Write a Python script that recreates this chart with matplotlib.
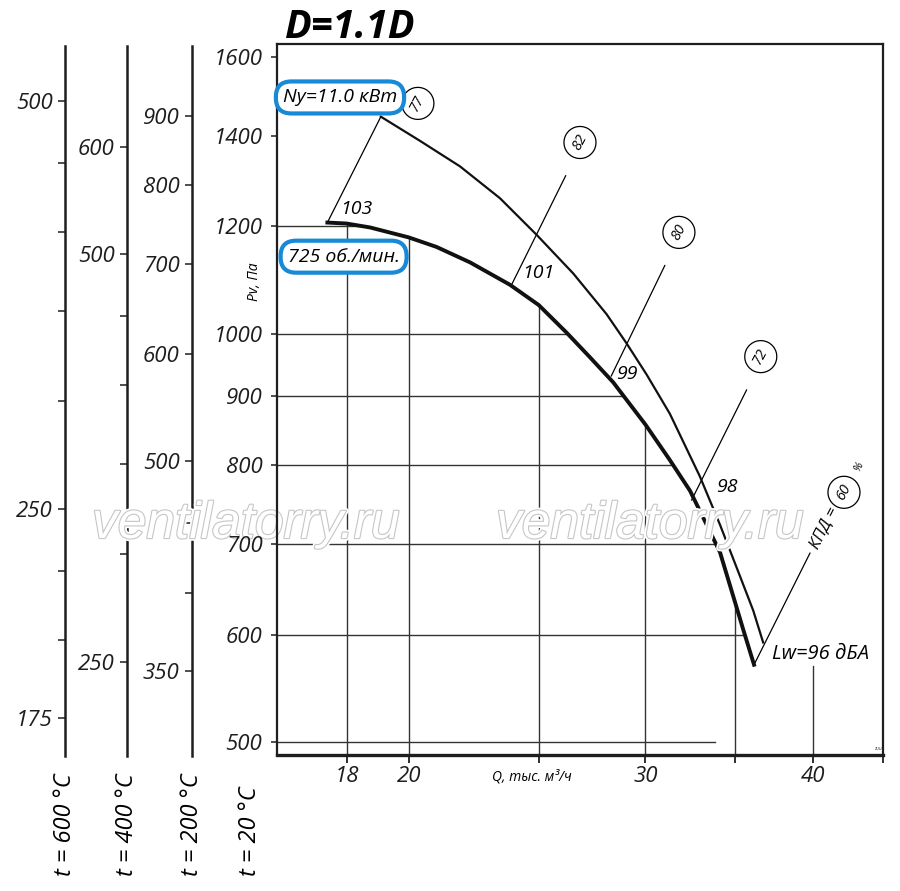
import numpy as np
import matplotlib
matplotlib.use('Agg')
import matplotlib.pyplot as plt
import matplotlib.patheffects as pe
from matplotlib.ticker import FixedLocator, FixedFormatter, NullLocator

FONT = ['Open Sans', 'DejaVu Sans']
plt.rcParams['font.family'] = FONT
plt.rcParams['font.style'] = 'italic'

# ---------------- data ----------------
q_thick = [17.39, 17.97, 18.71, 19.99, 20.97, 22.21, 23.78, 24.99, 26.21, 27.28, 28.39,
           30.01, 31.29, 32.39, 33.33, 34.10, 35.04, 35.47, 36.15]
p_thick = [1208, 1206, 1198, 1178, 1159, 1129, 1087, 1050, 1002, 961, 921,
           857, 807, 766, 723, 690, 631, 606, 570]
q_thin = [19.06, 20.38, 21.83, 23.38, 24.90, 26.51, 28.07, 29.05, 30.07, 31.29,
          32.94, 34.10, 35.28, 36.10, 36.72]
p_thin = [1446, 1388, 1329, 1259, 1183, 1108, 1034, 984, 933, 873,
          785, 723, 663, 625, 592]

eff_labels = ['77', '82', '80', '72', '60']
eff_q0 = [17.39, 23.83, 28.30, 32.48, 36.15]
eff_p0 = [1208, 1085, 931, 754, 570]
eff_q1 = [19.06, 26.17, 31.02, 35.69, 39.79]
eff_p1 = [1446, 1308, 1123, 909, 689]
eff_lab_q = [20.31, 26.82, 31.78, 36.57, 42.18]
eff_lab_p = [1479, 1384, 1188, 962, 764]

lw_labels = ['103', '101', '99', '98']
lw_q = [18.28, 24.95, 29.07, 34.5]
lw_p = [1236, 1109, 934, 771]

x_ticks = [18, 20, 25, 30, 35, 40, 45.1]
x_ticklabels = ['18', '20', '', '30', '', '40', '']
y_ticks = [500, 600, 700, 800, 900, 1000, 1200, 1400, 1600]

grid_h = [1200, 1000, 900, 800, 700, 600, 500]
grid_h_end500 = 33.8
grid_v = [18, 20, 25, 30, 35]
grid_v40_top = 569

# auxiliary temperature scales
temps = [600, 400, 200]
t600_ticks = [500, 450, 400, 350, 300, 250, 225, 200, 175]
t600_labels = [500, 250, 175]
t400_ticks = [600, 500, 450, 400, 350, 300, 250]
t400_labels = [600, 500, 250]
t200_ticks = [900, 800, 700, 600, 500, 450, 400, 350]
t200_labels = [900, 800, 700, 600, 500, 350]

XLIM = (15.95, 45.1)
YLIM = (489, 1636)

W, H = 900, 891
def fx(px): return px / W
def fy(py): return 1 - py / H

INK = '#1e1e1e'
TICK_FS = 16
fig = plt.figure(figsize=(9, 8.91), dpi=100)

# temperature scales (drawn below the main axes layer)
scale_x = [65, 127, 192]
scale_ticks = [t600_ticks, t400_ticks, t200_ticks]
scale_labels = [t600_labels, t400_labels, t200_labels]
for t, xp, tk, tl in zip(temps, scale_x, scale_ticks, scale_labels):
    ratio = (273 + 20) / (273 + t)
    a = fig.add_axes([fx(xp), fy(756), 0.0005, fy(46) - fy(756)])
    a.set_zorder(0)
    a.set_yscale('log'); a.set_ylim(*YLIM)
    a.patch.set_visible(False)
    for k in ['top', 'right', 'bottom']:
        a.spines[k].set_visible(False)
    a.spines['left'].set_linewidth(1.8); a.spines['left'].set_color(INK)
    a.set_xticks([])
    a.yaxis.set_major_locator(FixedLocator([v / ratio for v in tk]))
    a.yaxis.set_major_formatter(FixedFormatter([str(v) if v in tl else '' for v in tk]))
    a.yaxis.set_minor_locator(NullLocator())
    a.tick_params(axis='y', direction='out', length=5, width=1.1, colors=INK, labelsize=TICK_FS, pad=4)
    for lab in a.get_yticklabels():
        lab.set_style('italic')

ax = fig.add_axes([fx(277), fy(755), fx(883) - fx(277), fy(44) - fy(755)])
ax.set_zorder(5)
ax.set_axisbelow(False)
ax.set_xscale('log'); ax.set_yscale('log')
ax.set_xlim(*XLIM); ax.set_ylim(*YLIM)

for s in ax.spines.values():
    s.set_linewidth(1.6); s.set_color(INK)
ax.spines['bottom'].set_linewidth(2.4)

ax.xaxis.set_major_locator(FixedLocator(x_ticks))
ax.xaxis.set_major_formatter(FixedFormatter(x_ticklabels))
ax.xaxis.set_minor_locator(NullLocator())
ax.yaxis.set_major_locator(FixedLocator(y_ticks))
ax.yaxis.set_major_formatter(FixedFormatter([str(v) for v in y_ticks]))
ax.yaxis.set_minor_locator(NullLocator())
ax.tick_params(axis='x', direction='out', length=6, width=1.3, colors=INK, labelsize=TICK_FS, pad=2)
ax.tick_params(axis='y', direction='out', length=4.5, width=1.1, colors=INK, labelsize=TICK_FS, pad=6)
for lab in ax.get_xticklabels() + ax.get_yticklabels():
    lab.set_style('italic')

# grid lines clipped by the thick curve
qs_rev = np.log(q_thick[::-1]); ps_rev = np.log(p_thick[::-1])
GC = '#333333'
for p in grid_h:
    if p == 500:
        qend = grid_h_end500
    else:
        qend = float(np.exp(np.interp(np.log(p), ps_rev, qs_rev)))
    ax.plot([XLIM[0], qend], [p, p], color=GC, lw=1.0, zorder=1)
for q in grid_v:
    ptop = float(np.exp(np.interp(np.log(q), np.log(q_thick), np.log(p_thick))))
    ax.plot([q, q], [YLIM[0], ptop], color=GC, lw=1.0, zorder=1)
ax.plot([40, 40], [YLIM[0], grid_v40_top], color=GC, lw=1.0, zorder=1)

# efficiency lines
for q0, p0, q1, p1 in zip(eff_q0, eff_p0, eff_q1, eff_p1):
    ax.plot([q0, q1], [p0, p1], color='black', lw=0.9, zorder=1.2)

# curves
ax.plot(q_thin, p_thin, color='#111111', lw=1.6, zorder=1.5, solid_joinstyle='round')
ax.plot(q_thick, p_thick, color='#111111', lw=2.8, zorder=1.6, solid_joinstyle='round')

# watermark (in main axes layer, below tick labels and annotations)
for xc in [246, 650]:
    ax.text(fx(xc), fy(538), 'ventilatorry.ru', transform=fig.transFigure, fontsize=37,
            family=['Liberation Sans', 'DejaVu Sans'], style='italic', color='white',
            ha='center', va='baseline', zorder=2.2, clip_on=False,
            path_effects=[pe.Stroke(linewidth=4, foreground='white'),
                          pe.Stroke(linewidth=1.6, foreground='#c6c6c6'), pe.Normal()])

# circled efficiency labels
for lab, q, p in zip(eff_labels, eff_lab_q, eff_lab_p):
    ax.text(q, p, lab, fontsize=10.5, rotation=62, ha='center', va='center', zorder=6,
            rotation_mode='anchor',
            bbox=dict(boxstyle='circle,pad=0.55', fc='white', ec='black', lw=0.9))
ax.text(40.76, 719, 'КПД =', fontsize=12, rotation=63, ha='center', va='center', zorder=6)
ax.text(43.3, 797, '%', fontsize=8, rotation=63, ha='center', va='center', zorder=6)

# Lw labels
for lab, q, p in zip(lw_labels, lw_q, lw_p):
    ax.text(q, p, lab, fontsize=14, ha='center', va='center', zorder=6)
ax.text(40.55, 581, 'Lw=96 дБА', fontsize=14.5, ha='center', va='center', zorder=6)

BLUE = '#1789d6'
ax.text(17.77, 1494, 'Ny=11.0 кВт', fontsize=14, ha='center', va='center', zorder=7, clip_on=False,
        bbox=dict(boxstyle='round,pad=0.36,rounding_size=0.8', fc='white', ec=BLUE, lw=3))
ax.text(17.88, 1140, '725 об./мин.', fontsize=14, ha='center', va='center', zorder=7, clip_on=False,
        bbox=dict(boxstyle='round,pad=0.36,rounding_size=0.8', fc='white', ec=BLUE, lw=3))

ax.text(45.0, 492, 'zuu', fontsize=3.5, ha='right', va='bottom', color='#444444')

# texts outside
fig.text(fx(285), fy(38), 'D=1.1D', fontsize=28.5, fontweight='bold', style='italic', ha='left', va='baseline')
fig.text(fx(532), fy(777), 'Q, тыс. м³/ч', fontsize=10, ha='center', va='center')
fig.text(fx(254), fy(282), 'Pv, Па', fontsize=10, rotation=90, ha='center', va='center')
for xp, lab in zip([65, 127, 192, 250], ['t = 600 °C', 't = 400 °C', 't = 200 °C', 't = 20 °C']):
    fig.text(fx(xp), fy(876), lab, fontsize=17, rotation=90, ha='center', va='bottom')

fig.savefig('out.png', dpi=100)
